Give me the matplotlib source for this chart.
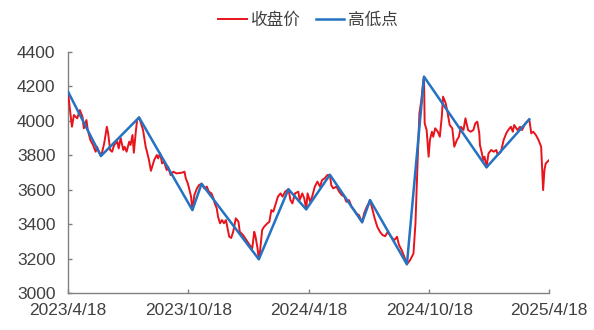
import matplotlib
matplotlib.use("Agg")
import matplotlib.pyplot as plt
import matplotlib.dates as mdates
import pandas as pd

plt.rcParams["font.family"] = ["Liberation Sans", "Noto Sans CJK SC", "DejaVu Sans"]

# ---- 收盘价 ----
close_dates = [
    "2023-04-18", "2023-04-21", "2023-04-24", "2023-04-27", "2023-05-02", "2023-05-06",
    "2023-05-10", "2023-05-12", "2023-05-16", "2023-05-18", "2023-05-22", "2023-05-26",
    "2023-05-30", "2023-06-01", "2023-06-07", "2023-06-09", "2023-06-12", "2023-06-16",
    "2023-06-18", "2023-06-21", "2023-06-24", "2023-06-27", "2023-07-02", "2023-07-04",
    "2023-07-07", "2023-07-11", "2023-07-13", "2023-07-16", "2023-07-20", "2023-07-22",
    "2023-07-25", "2023-07-27", "2023-07-30", "2023-08-01", "2023-08-04", "2023-08-07",
    "2023-08-10", "2023-08-14", "2023-08-16", "2023-08-19", "2023-08-22", "2023-08-27",
    "2023-08-31", "2023-09-02", "2023-09-05", "2023-09-08", "2023-09-11", "2023-09-15",
    "2023-09-17", "2023-09-21", "2023-09-25", "2023-09-30", "2023-10-08", "2023-10-12",
    "2023-10-14", "2023-10-17", "2023-10-19", "2023-10-22", "2023-10-24", "2023-10-27",
    "2023-10-31", "2023-11-03", "2023-11-07", "2023-11-11", "2023-11-15", "2023-11-18",
    "2023-11-22", "2023-11-25", "2023-11-27", "2023-11-30", "2023-12-02", "2023-12-05",
    "2023-12-08", "2023-12-11", "2023-12-14", "2023-12-17", "2023-12-19", "2023-12-22",
    "2023-12-25", "2023-12-29", "2024-01-02", "2024-01-04", "2024-01-09", "2024-01-14",
    "2024-01-19", "2024-01-23", "2024-01-26", "2024-01-28", "2024-01-31", "2024-02-02",
    "2024-02-04", "2024-02-07", "2024-02-10", "2024-02-15", "2024-02-18", "2024-02-21",
    "2024-02-24", "2024-02-27", "2024-03-02", "2024-03-06", "2024-03-09", "2024-03-13",
    "2024-03-18", "2024-03-21", "2024-03-24", "2024-03-28", "2024-04-02", "2024-04-04",
    "2024-04-08", "2024-04-11", "2024-04-14", "2024-04-16", "2024-04-20", "2024-04-23",
    "2024-04-27", "2024-05-01", "2024-05-05", "2024-05-08", "2024-05-12", "2024-05-16",
    "2024-05-20", "2024-05-22", "2024-05-25", "2024-05-30", "2024-06-03", "2024-06-07",
    "2024-06-11", "2024-06-14", "2024-06-18", "2024-06-22", "2024-06-26", "2024-06-29",
    "2024-07-03", "2024-07-08", "2024-07-11", "2024-07-15", "2024-07-18", "2024-07-20",
    "2024-07-27", "2024-07-31", "2024-08-04", "2024-08-08", "2024-08-12", "2024-08-16",
    "2024-08-19", "2024-08-23", "2024-08-26", "2024-08-30", "2024-09-02", "2024-09-06",
    "2024-09-10", "2024-09-14", "2024-09-19", "2024-09-24", "2024-09-27", "2024-09-30",
    "2024-10-03", "2024-10-06", "2024-10-09", "2024-10-10", "2024-10-11", "2024-10-14",
    "2024-10-17", "2024-10-19", "2024-10-22", "2024-10-24", "2024-10-27", "2024-10-31",
    "2024-11-03", "2024-11-06", "2024-11-08", "2024-11-12", "2024-11-15", "2024-11-18",
    "2024-11-22", "2024-11-25", "2024-11-29", "2024-12-02", "2024-12-05", "2024-12-09",
    "2024-12-12", "2024-12-16", "2024-12-20", "2024-12-24", "2024-12-27", "2024-12-30",
    "2025-01-02", "2025-01-03", "2025-01-06", "2025-01-08", "2025-01-10", "2025-01-13",
    "2025-01-16", "2025-01-20", "2025-01-24", "2025-01-28", "2025-01-30", "2025-02-04",
    "2025-02-08", "2025-02-12", "2025-02-15", "2025-02-19", "2025-02-22", "2025-02-24",
    "2025-03-01", "2025-03-05", "2025-03-08", "2025-03-13", "2025-03-19", "2025-03-22",
    "2025-03-25", "2025-03-29", "2025-04-02", "2025-04-06", "2025-04-09", "2025-04-11",
    "2025-04-13", "2025-04-18",
]
close_vals = [
    4170, 4063, 3966, 4034, 4015, 4063,
    4024, 3957, 4005, 3947, 3889, 3860,
    3821, 3850, 3796, 3821, 3870, 3966,
    3928, 3831, 3821, 3860, 3879, 3840,
    3900, 3831, 3850, 3821, 3879, 3860,
    3918, 3815, 3937, 4005, 4020, 3985,
    3947, 3850, 3821, 3773, 3710, 3773,
    3802, 3782, 3811, 3753, 3763, 3714,
    3734, 3685, 3705, 3695, 3699, 3705,
    3666, 3637, 3608, 3560, 3482, 3569,
    3608, 3627, 3635, 3608, 3618, 3589,
    3579, 3550, 3521, 3492, 3443, 3405,
    3424, 3405, 3424, 3366, 3327, 3320,
    3356, 3434, 3415, 3356, 3337, 3308,
    3279, 3260, 3356, 3327, 3260, 3196,
    3250, 3366, 3385, 3405, 3414, 3482,
    3473, 3511, 3560, 3579, 3560, 3589,
    3603, 3540, 3521, 3579, 3589, 3540,
    3579, 3550, 3486, 3579, 3530, 3560,
    3618, 3647, 3618, 3656, 3666, 3685,
    3687, 3627, 3608, 3618, 3589, 3569,
    3560, 3530, 3540, 3501, 3482, 3463,
    3453, 3411, 3463, 3501, 3521, 3540,
    3434, 3385, 3356, 3337, 3330, 3356,
    3337, 3318, 3308, 3327, 3279, 3250,
    3211, 3167, 3192, 3230, 3405, 3734,
    4044, 4121, 4237, 4257, 3986, 3947,
    3792, 3889, 3937, 3908, 3957, 3937,
    3908, 4024, 4141, 4102, 4044, 3976,
    3957, 3850, 3889, 3908, 3966, 3947,
    4015, 3947, 3937, 3947, 3986, 3995,
    3928, 3860, 3811, 3773, 3792, 3730,
    3811, 3831, 3821, 3831, 3802, 3821,
    3889, 3928, 3947, 3966, 3937, 3976,
    3947, 3966, 3947, 3986, 4009, 3928,
    3937, 3918, 3889, 3850, 3598, 3715,
    3753, 3772,
]

# ---- 高低点 ----
pivot_dates = [
    "2023-04-18", "2023-06-07", "2023-08-04", "2023-10-24", "2023-11-07",
    "2024-02-02", "2024-03-18", "2024-04-14", "2024-05-20", "2024-07-08",
    "2024-07-20", "2024-09-14", "2024-10-10", "2025-01-13", "2025-03-19",
]
pivot_vals = [
    4170, 3796, 4020, 3482, 3635,
    3196, 3603, 3486, 3687, 3411,
    3540, 3167, 4257, 3730, 4009,
]

tick_dates = ["2023-04-18", "2023-10-18", "2024-04-18", "2024-10-18", "2025-04-18"]
tick_labels = ["2023/4/18", "2023/10/18", "2024/4/18", "2024/10/18", "2025/4/18"]

C_RED = "#e8131b"
C_BLUE = "#2373c2"
C_AX = "#808080"
C_TXT = "#404040"

fig = plt.figure(figsize=(5.94, 3.30), dpi=100)
ax = fig.add_axes([0.1145, 0.112, 0.8098, 0.7303])

ax.plot(pd.to_datetime(close_dates), close_vals, color=C_RED, lw=1.4, label="收盘价", zorder=3)
ax.plot(pd.to_datetime(pivot_dates), pivot_vals, color=C_BLUE, lw=1.8, label="高低点", zorder=4)

ax.set_xlim(pd.Timestamp(tick_dates[0]), pd.Timestamp(tick_dates[-1]))
ax.set_ylim(3000, 4400)
ax.set_yticks(range(3000, 4401, 200))
ax.set_xticks(pd.to_datetime(tick_dates))
ax.set_xticklabels(tick_labels)

for s in ["top", "right"]:
    ax.spines[s].set_visible(False)
for s in ["left", "bottom"]:
    ax.spines[s].set_color(C_AX)
    ax.spines[s].set_linewidth(1.0)

ax.tick_params(axis="both", direction="in", length=3, width=1.0, color=C_AX,
               labelsize=12.5, labelcolor=C_TXT)
ax.tick_params(axis="y", pad=9)
ax.tick_params(axis="x", pad=7)

fig.legend(loc="center", bbox_to_anchor=(0.519, 0.939), ncol=2, frameon=False,
           fontsize=12, labelcolor=C_TXT, handlelength=1.7, handletextpad=0.25,
           columnspacing=0.9)

fig.savefig("out.png", dpi=100, facecolor="white")
